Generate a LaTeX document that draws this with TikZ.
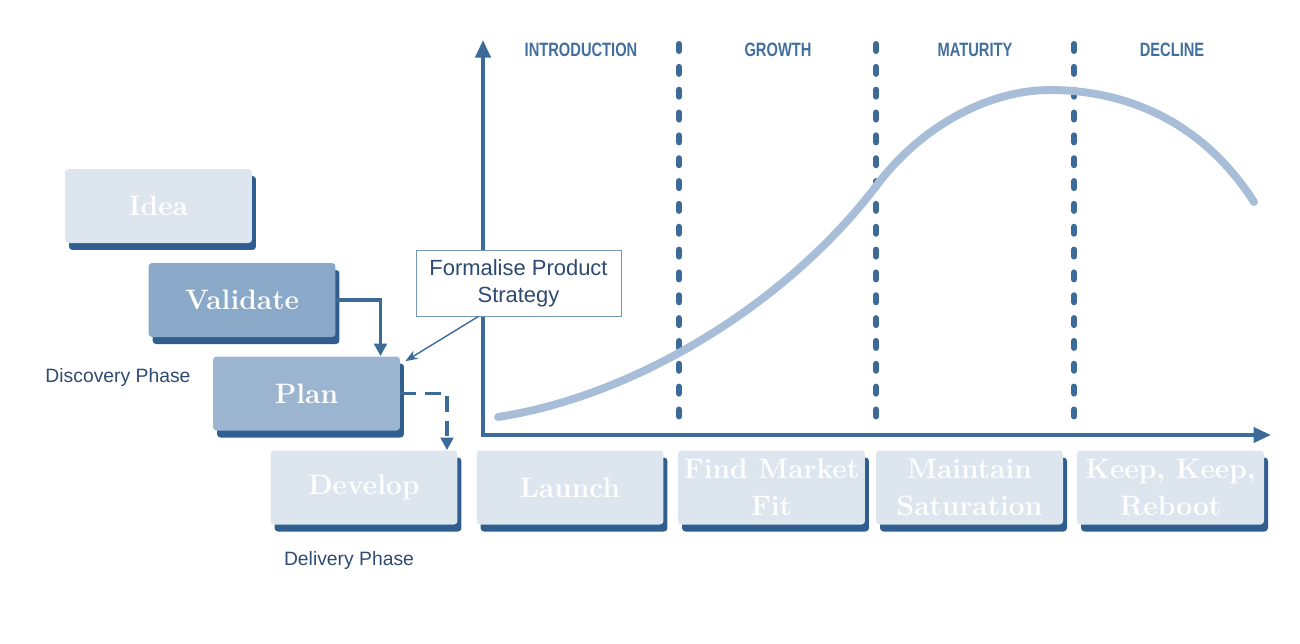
\documentclass[tikz,border=0pt]{standalone}
\usepackage{fontspec}
\usepackage{graphicx}
\usepackage{tikz}
\usetikzlibrary{arrows.meta,positioning,shadows}

\newfontfamily\notefont{Liberation Sans}
\definecolor{axisblue}{HTML}{3C6A99}
\definecolor{shadowblue}{HTML}{2F5E8F}
\definecolor{paleblue}{HTML}{DDE5EF}
\definecolor{midblue}{HTML}{8AA8C8}
\definecolor{planblue}{HTML}{9BB5D1}
\definecolor{curveblue}{HTML}{A8BED8}
\definecolor{labelblue}{HTML}{2D4B70}
\definecolor{phasetext}{HTML}{41709E}
\newcommand{\condensed}[1]{\scalebox{0.76}[1]{#1}}

\begin{document}
\begin{tikzpicture}[
  x=0.02cm, y=-0.02cm,
  stage/.style={rounded corners=2pt, minimum width=3.74cm, minimum height=1.48cm, align=center, text=white,
    font=\bfseries\fontsize{16}{21}\selectfont,
    general shadow={fill=shadowblue, shadow xshift=0.08cm, shadow yshift=-0.14cm}},
  phase/.style={font=\notefont\bfseries\fontsize{11}{13}\selectfont, text=phasetext},
  note/.style={draw=axisblue!70, fill=white, minimum width=4.1cm, minimum height=1.32cm, align=center,
    text=labelblue, font=\notefont\fontsize{12.5}{15.5}\selectfont},
  caption/.style={text=labelblue, font=\notefont\fontsize{11}{13}\selectfont},
  axis/.style={{Triangle[length=3.5mm, width=3mm]}-{Triangle[length=3.5mm, width=3mm]}, line width=2.2pt, draw=axisblue},
  divider/.style={line width=3.4pt, draw=axisblue, line cap=round, dash pattern=on 4pt off 9pt},
  arrow/.style={-{Triangle[length=2.5mm, width=2.5mm]}, line width=1.8pt, draw=axisblue},
  thin arrow/.style={-{Stealth[length=2.5mm]}, line width=0.8pt, draw=axisblue}
]
\useasboundingbox (0,0) rectangle (1300,643);

% axes
\coordinate (origin) at (483,435);
\coordinate (ytip) at (483,40);
\coordinate (xtip) at (1271,435);
\draw[axis] (ytip) -- (origin) -- (xtip);

% phase dividers
\foreach \x in {679,876,1074}
  \draw[divider] (\x,44) -- (\x,430);

\node[phase] (intro) at (581,50) {\condensed{INTRODUCTION}};
\node[phase] (growth) at (778,50) {\condensed{GROWTH}};
\node[phase] (maturity) at (975,50) {\condensed{MATURITY}};
\node[phase] (decline) at (1172,50) {\condensed{DECLINE}};

% lifecycle curve
\draw[curveblue, line width=4.5pt, line cap=round]
  (498,417) .. controls (640,395) and (790,300) .. (877,185)
  .. controls (922,125) and (990,90) .. (1050,90)
  .. controls (1110,90) and (1195,110) .. (1254,202);

% stage boxes
\node[stage, fill=paleblue] (idea) at (158.5,206) {Idea};
\node[stage, fill=midblue] (validate) at (242,300) {Validate};
\node[stage, fill=planblue] (plan) at (306.5,393.5) {Plan};
\node[stage, fill=paleblue] (develop) at (364,487.5) {Develop};
\node[stage, fill=paleblue] (launch) at (570,487.5) {Launch};
\node[stage, fill=paleblue] (fit) at (771.5,487.5) {Find Market\\Fit};
\node[stage, fill=paleblue] (saturation) at (969.5,487.5) {Maintain\\Saturation};
\node[stage, fill=paleblue] (reboot) at (1170.5,487.5) {Keep, Keep,\\Reboot};

\node[note] (strategy) at (518.5,283) {Formalise Product\\Strategy};

\draw[arrow] (validate.east) -| ([xshift=1.48cm]plan.north);
\draw[arrow, dash pattern=on 9pt off 5pt] (plan.east) -| ([xshift=1.66cm]develop.north);
\draw[thin arrow] ([xshift=-0.8cm]strategy.south) -- ([shift={(0.1cm,-0.1cm)}]plan.north east);

\node[caption] (discovery) at (118,377) {Discovery Phase};
\node[caption] (delivery) at (349,560) {Delivery Phase};
\end{tikzpicture}
\end{document}
